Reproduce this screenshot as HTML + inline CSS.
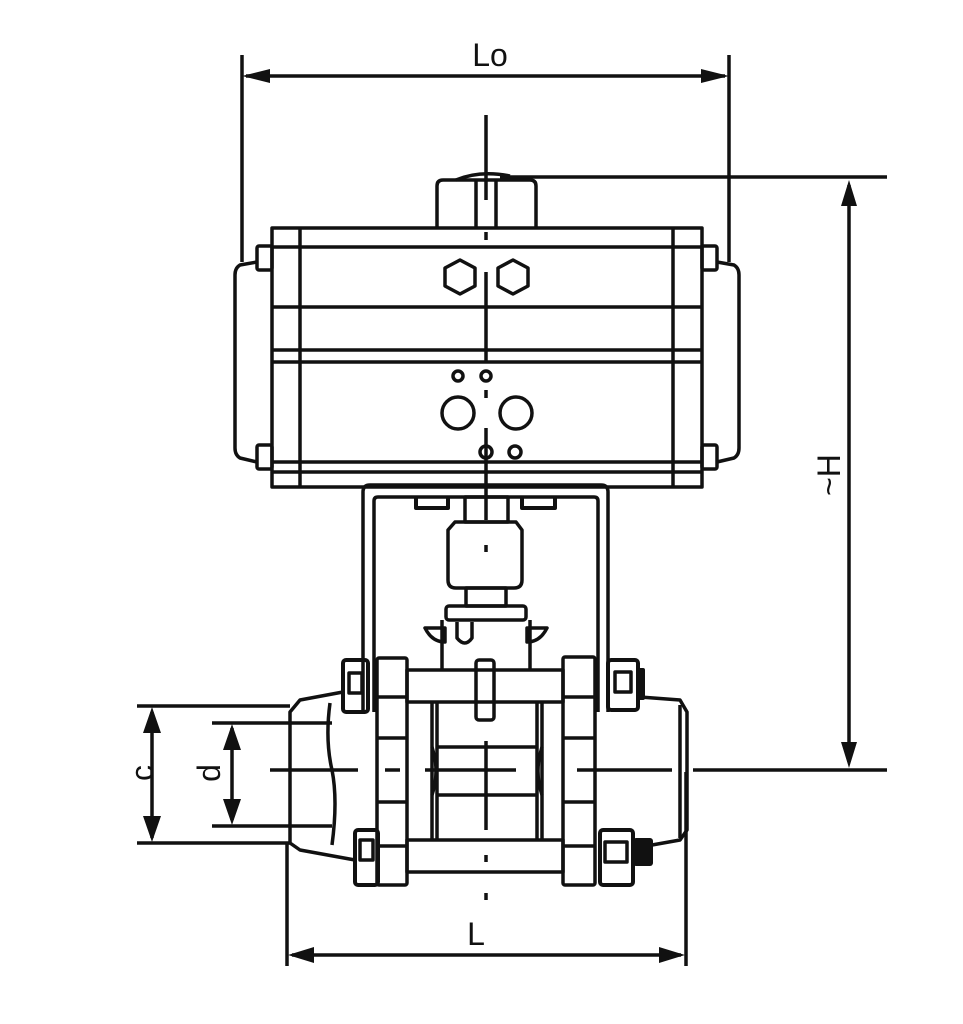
<!DOCTYPE html>
<html><head><meta charset="utf-8"><style>html,body{margin:0;padding:0;background:#fff}svg{display:block}</style></head>
<body>
<svg width="963" height="1024" viewBox="0 0 963 1024" xmlns="http://www.w3.org/2000/svg">
<g fill="none" stroke="#111" stroke-width="3.5" stroke-linejoin="round">
<!-- Lo dimension -->
<line x1="242" y1="55" x2="242" y2="262"/>
<line x1="729" y1="55" x2="729" y2="262"/>
<line x1="246" y1="76" x2="725" y2="76"/>
<!-- H dimension -->
<line x1="500" y1="177" x2="887" y2="177"/>
<line x1="693" y1="770" x2="887" y2="770"/>
<line x1="849" y1="185" x2="849" y2="762"/>
<!-- actuator top cap -->
<path d="M437,228 L437,186 Q437,180 443,180 L530,180 Q536,180 536,186 L536,228"/>
<path d="M456,180 Q480,170 510,176"/>
<line x1="476" y1="180" x2="476" y2="228"/><line x1="496" y1="180" x2="496" y2="228"/>
<!-- actuator body -->
<rect x="272" y="228" width="430" height="259"/>
<line x1="300" y1="228" x2="300" y2="487"/><line x1="673" y1="228" x2="673" y2="487"/>
<line x1="272" y1="247" x2="702" y2="247"/>
<line x1="272" y1="307" x2="702" y2="307"/>
<line x1="272" y1="350" x2="702" y2="350"/>
<line x1="272" y1="362" x2="702" y2="362"/>
<line x1="272" y1="462" x2="702" y2="462"/>
<line x1="272" y1="472" x2="702" y2="472"/>
<!-- end caps -->
<path d="M257,262 L240,265 Q235,268 235,275 L235,448 Q235,455 240,458 L257,462"/>
<path d="M717,262 L734,265 Q739,268 739,275 L739,448 Q739,455 734,458 L717,462"/>
<rect x="257" y="246" width="15" height="24" rx="2"/>
<rect x="257" y="445" width="15" height="24" rx="2"/>
<rect x="702" y="246" width="15" height="24" rx="2"/>
<rect x="702" y="445" width="15" height="24" rx="2"/>
<!-- hexagons and holes -->
<polygon points="460,260 475,268 475,286 460,294 445,286 445,268"/>
<polygon points="513,260 528,268 528,286 513,294 498,286 498,268"/>
<circle cx="458" cy="376" r="5"/><circle cx="486" cy="376" r="5"/>
<circle cx="458" cy="413" r="16"/><circle cx="516" cy="413" r="16"/>
<circle cx="486" cy="452" r="6"/><circle cx="515" cy="452" r="6"/>
<!-- centerline -->
<line x1="486" y1="115" x2="486" y2="200"/>
<line x1="486" y1="232" x2="486" y2="240"/>
<line x1="486" y1="272" x2="486" y2="362"/>
<line x1="486" y1="390" x2="486" y2="398"/>
<line x1="486" y1="428" x2="486" y2="520"/>
<!-- bracket -->
<path d="M363,712 L363,492 Q363,485 370,485 L601,485 Q608,485 608,492 L608,712"/>
<path d="M374,712 L374,501 Q374,497 378,497 L594,497 Q598,497 598,501 L598,712"/>
<path d="M416,497 L416,508 L448,508 L448,497" stroke-width="4"/>
<path d="M522,497 L522,508 L555,508 L555,497" stroke-width="4"/>
<!-- stem & coupler -->
<rect x="465" y="497" width="43" height="25"/>
<path d="M455,522 L516,522 L522,530 L522,580 Q522,588 514,588 L456,588 Q448,588 448,580 L448,530 z"/>
<line x1="486" y1="545" x2="486" y2="552"/>
<rect x="466" y="588" width="40" height="18"/>
<rect x="446" y="606" width="80" height="14" rx="3"/>
<path d="M442,620 L442,670 M530,620 L530,670"/>
<path d="M425,628 L445,628 L445,642 Q432,642 425,628 z"/>
<path d="M547,628 L527,628 L527,642 Q540,642 547,628 z"/>
<path d="M457,622 L457,638 Q465,648 472,638 L472,622"/>
<rect x="476" y="660" width="18" height="60" rx="3"/>
<!-- flanges -->
<rect x="377" y="658" width="30" height="227" rx="2"/>
<rect x="563" y="657" width="32" height="228" rx="2"/>
<line x1="377" y1="697" x2="407" y2="697"/><line x1="377" y1="738" x2="407" y2="738"/>
<line x1="377" y1="802" x2="407" y2="802"/><line x1="377" y1="846" x2="407" y2="846"/>
<line x1="563" y1="697" x2="595" y2="697"/><line x1="563" y1="738" x2="595" y2="738"/>
<line x1="563" y1="802" x2="595" y2="802"/><line x1="563" y1="846" x2="595" y2="846"/>
<rect x="407" y="670" width="156" height="32"/>
<rect x="407" y="840" width="156" height="32"/>
<line x1="432" y1="702" x2="432" y2="840"/><line x1="437" y1="702" x2="437" y2="840"/>
<line x1="537" y1="702" x2="537" y2="840"/><line x1="542" y1="702" x2="542" y2="840"/>
<line x1="437" y1="747" x2="537" y2="747"/><line x1="437" y1="795" x2="537" y2="795"/>
<path d="M432,747 Q440,771 432,795 M542,747 Q534,771 542,795"/>
<!-- left end -->
<path d="M343,692 L300,700 L290,712 L290,843 L300,850 L355,860"/>
<path d="M330,703 Q325,740 332,770 Q338,800 332,845"/>
<!-- right end -->
<path d="M640,697 L680,700 L687,712 L687,830 L680,840 L652,845"/>
<line x1="680" y1="705" x2="680" y2="838"/>
<!-- bolts -->
<rect x="343" y="660" width="25" height="52" rx="3" stroke-width="4"/>
<rect x="349" y="673" width="13" height="20"/>
<rect x="355" y="830" width="23" height="55" rx="3" stroke-width="4"/>
<rect x="360" y="840" width="13" height="20"/>
<rect x="608" y="660" width="30" height="50" rx="3" stroke-width="4"/>
<rect x="615" y="672" width="16" height="20"/>
<rect x="600" y="830" width="33" height="55" rx="3" stroke-width="4"/>
<rect x="605" y="842" width="22" height="20"/>
<!-- center line horizontal -->
<line x1="270" y1="770" x2="358" y2="770"/>
<line x1="385" y1="770" x2="400" y2="770"/>
<line x1="425" y1="770" x2="516" y2="770"/>
<line x1="577" y1="770" x2="672" y2="770"/>
<line x1="486" y1="741" x2="486" y2="830"/>
<line x1="486" y1="855" x2="486" y2="862"/>
<line x1="486" y1="893" x2="486" y2="900"/>
<!-- c / d dims -->
<line x1="137" y1="706" x2="290" y2="706"/>
<line x1="137" y1="843" x2="290" y2="843"/>
<line x1="212" y1="723" x2="332" y2="723"/>
<line x1="212" y1="826" x2="332" y2="826"/>
<line x1="152" y1="712" x2="152" y2="838"/>
<line x1="232" y1="728" x2="232" y2="820"/>
<!-- L dim -->
<line x1="287" y1="843" x2="287" y2="966"/>
<line x1="686" y1="772" x2="686" y2="966"/>
<line x1="292" y1="955" x2="681" y2="955"/>
</g>
<g fill="#111">
<path d="M242,76 L270,69 L270,83 z M729,76 L701,69 L701,83 z"/>
<path d="M849,180 L841,206 L857,206 z M849,768 L841,742 L857,742 z"/>
<path d="M152,707 L143,733 L161,733 z M152,842 L143,816 L161,816 z"/>
<path d="M232,724 L223,750 L241,750 z M232,825 L223,799 L241,799 z"/>
<path d="M288,955 L314,947 L314,963 z M685,955 L659,947 L659,963 z"/>
<rect x="633" y="838" width="20" height="28" rx="3"/>
<rect x="638" y="668" width="7" height="32" rx="2"/>
</g>
<g font-family="Liberation Sans, sans-serif" font-size="32" fill="#111">
<text x="490" y="66" text-anchor="middle">Lo</text>
<text x="476" y="945" text-anchor="middle">L</text>
<text transform="translate(840,475) rotate(-90)" text-anchor="middle">~H</text>
<text transform="translate(153,773) rotate(-90)" text-anchor="middle">c</text>
<text transform="translate(220,773) rotate(-90)" text-anchor="middle">d</text>
</g>
</svg>
</body></html>
